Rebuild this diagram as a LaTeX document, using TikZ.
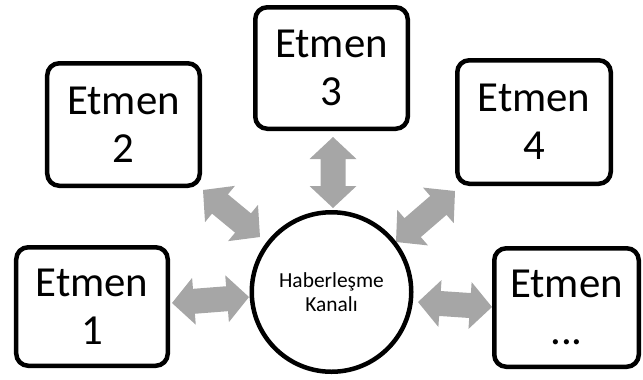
\documentclass[tikz,border=0pt]{standalone}
\usepackage{fontspec}
\setmainfont{Carlito}
\usetikzlibrary{calc}
\definecolor{arrowgrey}{HTML}{A6A6A6}
\newcommand\baHL{22bp}
\newcommand\baHW{23.5bp}
\newcommand\baSW{12.5bp}
\newcommand\blockarrow[2]{%
  \coordinate (ba-s) at (#1);
  \coordinate (ba-e) at (#2);
  \coordinate (ba-h1) at ($(ba-s)!\baHL!(ba-e)$);
  \coordinate (ba-h2) at ($(ba-e)!\baHL!(ba-s)$);
  \fill[arrowgrey] (ba-s)
    -- ($(ba-h1)!\baHW!90:(ba-e)$) -- ($(ba-h1)!\baSW!90:(ba-e)$)
    -- ($(ba-h2)!\baSW!-90:(ba-s)$) -- ($(ba-h2)!\baHW!-90:(ba-s)$)
    -- (ba-e)
    -- ($(ba-h2)!\baHW!90:(ba-s)$) -- ($(ba-h2)!\baSW!90:(ba-s)$)
    -- ($(ba-h1)!\baSW!-90:(ba-e)$) -- ($(ba-h1)!\baHW!-90:(ba-e)$)
    -- cycle;
}
\begin{document}
\begin{tikzpicture}[x=1bp,y=-1bp,
  agent/.style={draw, line width=4.5bp, rounded corners=12bp, align=center,
    inner sep=0pt, font=\fontsize{43}{48}\selectfont},
  channel/.style={draw, circle, line width=4.5bp, align=center, inner sep=0pt,
    minimum size=159.5bp, font=\fontsize{21.5}{24}\selectfont}]
\useasboundingbox (0,0) rectangle (643,379);
% arrow end points
\coordinate (a1s) at (172,303); \coordinate (a1e) at (249,297);
\coordinate (a2s) at (203,190); \coordinate (a2e) at (260,237);
\coordinate (a3s) at (333,137); \coordinate (a3e) at (333,208);
\coordinate (a4s) at (455,191); \coordinate (a4e) at (396,242);
\coordinate (a5s) at (418,302); \coordinate (a5e) at (492,307);
\blockarrow{a1s}{a1e}
\blockarrow{a2s}{a2e}
\blockarrow{a3s}{a3e}
\blockarrow{a4s}{a4e}
\blockarrow{a5s}{a5e}
% agents
\node[agent, minimum width=151.5bp, minimum height=118.5bp] (e1) at (92,306.5) {Etmen\\1};
\node[agent, minimum width=152.5bp, minimum height=122.5bp] (e2) at (123.5,124.5) {Etmen\\2};
\node[agent, minimum width=152.5bp, minimum height=121.5bp] (e3) at (331.5,68) {Etmen\\3};
\node[agent, minimum width=153.5bp, minimum height=123.5bp] (e4) at (534,122) {Etmen\\4};
\node[agent, minimum width=144.5bp, minimum height=118.5bp] (e5) at (566.5,307.5) {Etmen\\...};
% channel
\node[channel] (ch) at (331.5,292) {Haberleşme\\Kanalı};
\end{tikzpicture}
\end{document}
